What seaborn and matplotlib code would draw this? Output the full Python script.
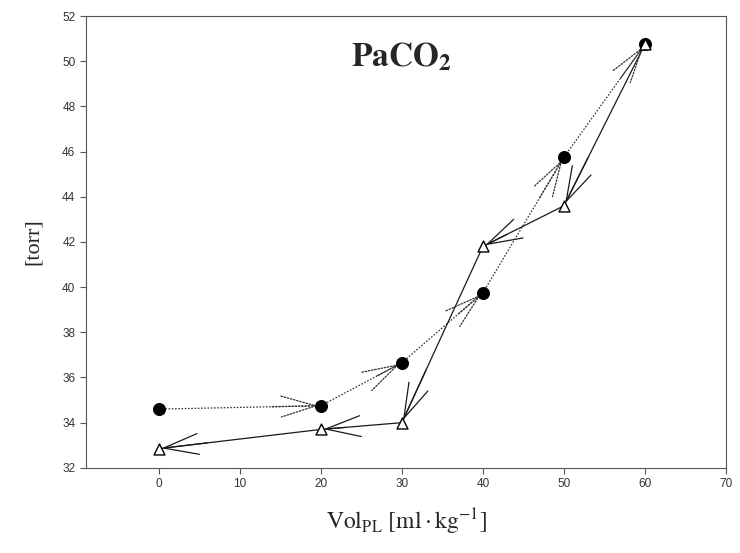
import numpy as np
import pandas as pd
import matplotlib
matplotlib.use("Agg")
import matplotlib.pyplot as plt
import seaborn as sns

# === DATA ===
vol_in = [0, 20, 30, 40, 50, 60]
paco2_in = [34.6, 34.75, 36.65, 39.75, 45.75, 50.75]
vol_out = [60, 50, 40, 30, 20, 0]
paco2_out = [50.75, 43.6, 41.8, 34.0, 33.7, 32.85]
x_ticks = [0, 10, 20, 30, 40, 50, 60, 70]
y_ticks = [32, 34, 36, 38, 40, 42, 44, 46, 48, 50, 52]

sns.set_style("ticks")
plt.rcParams["font.family"] = ["Liberation Sans", "DejaVu Sans"]
plt.rcParams["mathtext.fontset"] = "stix"

fig = plt.figure(figsize=(7.4, 5.53), dpi=100)
ax = fig.add_axes([0.116, 0.154, 0.865, 0.817])

df_in = pd.DataFrame({"vol": vol_in, "paco2": paco2_in})
df_out = pd.DataFrame({"vol": vol_out, "paco2": paco2_out})

dotted = (0, (1.3, 1.3))
sns.lineplot(data=df_in, x="vol", y="paco2", sort=False, estimator=None, ax=ax,
             color="#333333", lw=0.9, linestyle=dotted)
sns.lineplot(data=df_out, x="vol", y="paco2", sort=False, estimator=None, ax=ax,
             color="#1a1a1a", lw=0.9)

# arrowheads at the end of each segment
def add_heads(xs, ys, color, ls):
    for i in range(len(xs) - 1):
        x0, y0, x1, y1 = xs[i], ys[i], xs[i + 1], ys[i + 1]
        ax.annotate("", xy=(x1, y1), xytext=(x1 - 0.3 * (x1 - x0), y1 - 0.3 * (y1 - y0)),
                    arrowprops=dict(arrowstyle="->,head_length=2.5,head_width=0.75",
                                    mutation_scale=10, color=color, lw=0.9,
                                    linestyle=ls, shrinkA=0, shrinkB=2))

add_heads(vol_in, paco2_in, "#333333", dotted)
add_heads(vol_out, paco2_out, "#1a1a1a", "-")

sns.scatterplot(data=df_in, x="vol", y="paco2", ax=ax, marker="o", s=75,
                color="black", edgecolor="black", zorder=5)
sns.scatterplot(data=df_out, x="vol", y="paco2", ax=ax, marker="^", s=62,
                facecolor="white", edgecolor="black", linewidth=1.0, zorder=6)

ax.set_xlim(-9, 70)
ax.set_ylim(32, 52)
ax.set_xticks(x_ticks)
ax.set_yticks(y_ticks)
for sp in ax.spines.values():
    sp.set_visible(True)
    sp.set_linewidth(0.8)
    sp.set_color("#555555")
ax.tick_params(direction="out", length=4, width=0.8, color="#555555",
               labelsize=8.5, labelcolor="#333333")

ax.text(30, 49.8, r"$\mathbf{PaCO_2}$", fontsize=24, ha="center", va="baseline")
ax.set_xlabel(r"$\mathrm{Vol_{PL}}\ [\mathrm{ml} \cdot \mathrm{kg^{-1}}]$", fontsize=17, labelpad=12)
ax.set_ylabel("[torr]", fontsize=16, family=["Liberation Serif", "DejaVu Serif"], labelpad=14)

fig.savefig("out.png", dpi=100)
